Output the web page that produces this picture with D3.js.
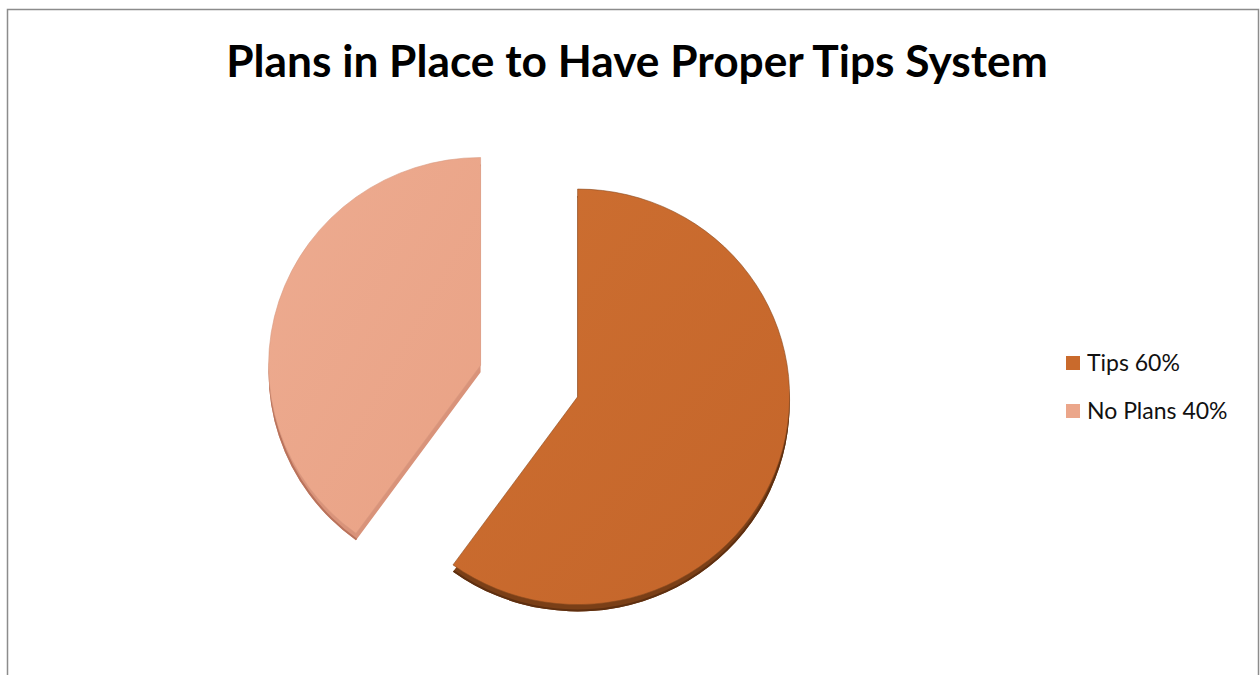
<!DOCTYPE html>
<html>
<head>
<meta charset="utf-8">
<script src="https://cdn.jsdelivr.net/npm/d3@7"></script>
<style>
  html, body { margin: 0; padding: 0; background: #fff; }
  svg { display: block; }
</style>
</head>
<body>
<div id="chart"></div>
<script>
const title = 'Plans in Place to Have Proper Tips System';
const categories = ['Tips', 'No Plans'];
const values = [60, 40];
const legendLabels = ['Tips 60%', 'No Plans 40%'];
const explode = [90, 12];

const colors = ['#C96A2C', '#EBA68A'];
const sideColors = ['#7A3F17', '#D9937A'];

const width = 1260;
const height = 675;
const radius = 212;
const tilt = 0.98;
const depth = 7;
const cx = 492;
const cy = 369;

const svg = d3.select('#chart')
  .append('svg')
    .attr('width', width)
    .attr('height', height);

// chart frame
svg.append('rect')
  .attr('x', 7.5)
  .attr('y', 9.5)
  .attr('width', 1251)
  .attr('height', 700)
  .attr('fill', '#fff')
  .attr('stroke', '#8c8c8c')
  .attr('stroke-width', 1.5);

const defs = svg.append('defs');
const grads = [
  ['#CD6F31', '#C4652A'],
  ['#EDAB90', '#E9A285']
];
grads.forEach((g, i) => {
  const lg = defs.append('linearGradient')
    .attr('id', 'grad' + i)
    .attr('x1', '0%').attr('y1', '0%')
    .attr('x2', '100%').attr('y2', '100%');
  lg.append('stop').attr('offset', '0%').attr('stop-color', g[0]);
  lg.append('stop').attr('offset', '100%').attr('stop-color', g[1]);
});

const pie = d3.pie().sort(null).value((d) => d.value);
const arcs = pie(categories.map((c, i) => ({ name: c, value: values[i], idx: i })));
const arc = d3.arc().innerRadius(0).outerRadius(radius);

const slices = svg.selectAll('g.slice')
  .data(arcs)
  .enter().append('g')
    .attr('class', 'slice')
    .attr('transform', (d) => {
      const mid = (d.startAngle + d.endAngle) / 2;
      const e = explode[d.data.idx];
      return 'translate(' + (cx + Math.sin(mid) * e) + ',' + (cy - Math.cos(mid) * e) + ') scale(1,' + tilt + ')';
    });

// side (extruded) face
slices.append('path')
  .attr('d', arc)
  .attr('transform', 'translate(0,' + depth + ')')
  .attr('fill', (d) => sideColors[d.data.idx]);

// darker rim along the lower outer edge
slices.append('path')
  .attr('d', d3.arc().innerRadius(radius - 2).outerRadius(radius))
  .attr('transform', 'translate(0,' + depth + ')')
  .attr('fill', (d) => d.data.idx === 0 ? '#5E2F10' : '#B9735C');

// top face
slices.append('path')
  .attr('d', arc)
  .attr('fill', (d) => 'url(#grad' + d.data.idx + ')')
  .attr('stroke', (d) => d.data.idx === 0 ? '#8a4a1e' : '#d89a80')
  .attr('stroke-width', 0.6);

// title
const titleText = svg.append('text')
  .attr('x', 637)
  .attr('y', 77)
  .attr('text-anchor', 'middle')
  .style('font-family', 'Lato, "Open Sans", sans-serif')
  .style('font-weight', 'bold')
  .style('font-size', '44px')
  .attr('fill', '#000')
  .text(title);
const tw = titleText.node().getComputedTextLength();
titleText.style('font-size', (44 * 822 / tw) + 'px');

// legend
const legend = svg.append('g')
  .attr('transform', 'translate(1066,363)');

const items = legend.selectAll('g')
  .data(legendLabels)
  .enter().append('g')
    .attr('transform', (d, i) => 'translate(0,' + (i * 48) + ')');

items.append('rect')
  .attr('x', 0)
  .attr('y', -7)
  .attr('width', 14)
  .attr('height', 14)
  .attr('fill', (d, i) => colors[i]);

items.append('text')
  .attr('x', 21)
  .attr('y', 0)
  .attr('dy', '0.35em')
  .style('font-family', 'Lato, "Open Sans", sans-serif')
  .style('font-size', '23px')
  .attr('fill', '#111')
  .text((d) => d);
</script>
</body>
</html>
